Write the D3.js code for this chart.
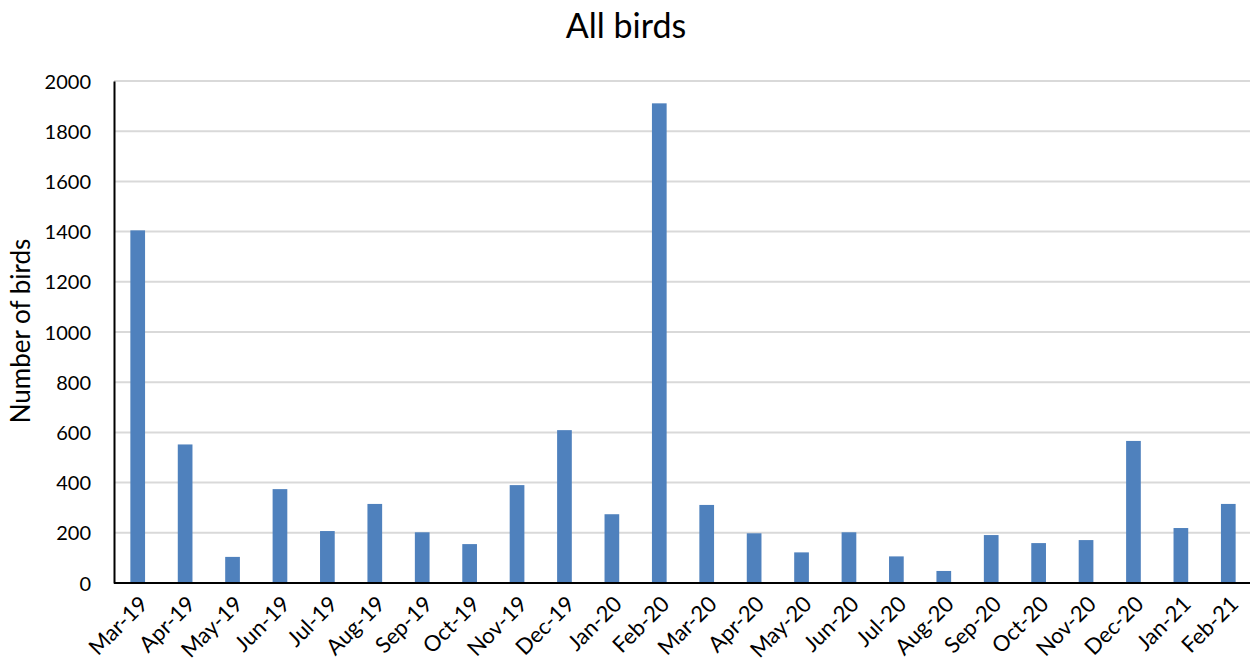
<!DOCTYPE html>
<html>
<head>
<meta charset="utf-8">
<script src="https://cdn.jsdelivr.net/npm/d3@7"></script>
<style>
  body { margin: 0; background: #fff; }
  svg { display: block; }
  text { font-family: "Lato", "Open Sans", sans-serif; fill: #000; }
</style>
</head>
<body>
<svg id="chart" width="1250" height="662"></svg>
<script>
const categories = ["Mar-19","Apr-19","May-19","Jun-19","Jul-19","Aug-19","Sep-19","Oct-19","Nov-19","Dec-19","Jan-20","Feb-20","Mar-20","Apr-20","May-20","Jun-20","Jul-20","Aug-20","Sep-20","Oct-20","Nov-20","Dec-20","Jan-21","Feb-21"];
const birdCounts = [1405,552,104,374,207,315,202,155,390,609,274,1911,311,198,122,202,106,48,191,159,171,566,219,315];
const yTicks = [0,200,400,600,800,1000,1200,1400,1600,1800,2000];
const chartTitle = "All birds";
const yAxisTitle = "Number of birds";

const svg = d3.select("#chart");
const mLeft = 114, mRight = 1252, mTop = 81, mBottom = 583;

const x = d3.scaleBand().domain(categories).range([mLeft, mRight]).paddingInner(0.69).paddingOuter(0.345);
const y = d3.scaleLinear().domain([0, 2000]).range([mBottom, mTop]);

// gridlines
svg.append("g").selectAll("line").data(yTicks.filter(d => d > 0)).join("line")
  .attr("x1", mLeft).attr("x2", 1250)
  .attr("y1", d => y(d)).attr("y2", d => y(d))
  .attr("stroke", "#d9d9d9").attr("stroke-width", 2);

// bars
svg.append("g").selectAll("rect").data(categories).join("rect")
  .attr("x", d => x(d))
  .attr("width", x.bandwidth())
  .attr("y", (d, i) => y(birdCounts[i]))
  .attr("height", (d, i) => y(0) - y(birdCounts[i]))
  .attr("fill", "#4f81bd");

// y axis
const yAxis = svg.append("g").attr("transform", `translate(${mLeft},0)`)
  .call(d3.axisLeft(y).tickValues(yTicks).tickSize(0).tickPadding(23).tickFormat(d3.format("d")));
yAxis.select(".domain").attr("stroke", "#000").attr("stroke-width", 2);
yAxis.selectAll("text").style("font-size", "20px").attr("dy", "0.35em");

// x axis
const xAxis = svg.append("g").attr("transform", `translate(0,${mBottom})`)
  .call(d3.axisBottom(x).tickSize(0).tickPadding(0));
xAxis.select(".domain").attr("d", `M${mLeft},0H1250`).attr("stroke", "#000").attr("stroke-width", 2);
xAxis.selectAll("text")
  .style("font-size", "22px")
  .attr("text-anchor", "end")
  .attr("dy", "0.35em")
  .attr("transform", "translate(6,17) rotate(-45)");

// titles
svg.append("text").attr("x", 626).attr("y", 38).attr("text-anchor", "middle")
  .style("font-size", "34px").text(chartTitle);
svg.append("text").attr("transform", "translate(30,331) rotate(-90)").attr("text-anchor", "middle")
  .style("font-size", "26px").text(yAxisTitle);
</script>
</body>
</html>
